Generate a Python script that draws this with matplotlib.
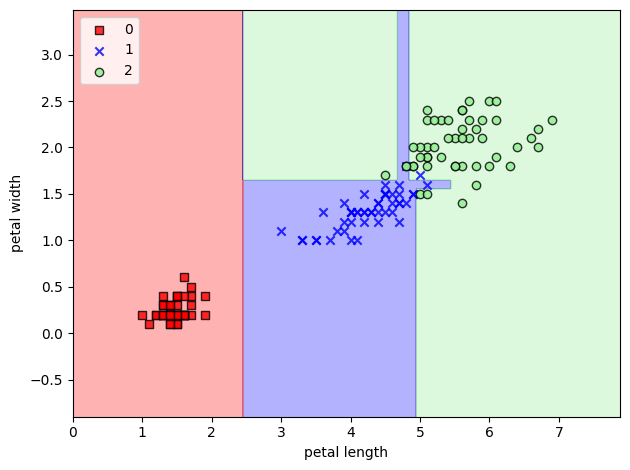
import numpy as np
import matplotlib
matplotlib.use("Agg")
import matplotlib.pyplot as plt
from matplotlib.colors import ListedColormap

# Iris petal length / width
petal_length = [
    1.4, 1.4, 1.3, 1.5, 1.4, 1.7, 1.4, 1.5, 1.4, 1.5, 1.5, 1.6, 1.4, 1.1, 1.2, 1.5, 1.3, 1.4, 1.7, 1.5,
    1.7, 1.5, 1.0, 1.7, 1.9, 1.6, 1.6, 1.5, 1.4, 1.6, 1.6, 1.5, 1.5, 1.4, 1.5, 1.2, 1.3, 1.4, 1.3, 1.5,
    1.3, 1.3, 1.3, 1.6, 1.9, 1.4, 1.6, 1.4, 1.5, 1.4,
    4.7, 4.5, 4.9, 4.0, 4.6, 4.5, 4.7, 3.3, 4.6, 3.9, 3.5, 4.2, 4.0, 4.7, 3.6, 4.4, 4.5, 4.1, 4.5, 3.9,
    4.8, 4.0, 4.9, 4.7, 4.3, 4.4, 4.8, 5.0, 4.5, 3.5, 3.8, 3.7, 3.9, 5.1, 4.5, 4.5, 4.7, 4.4, 4.1, 4.0,
    4.4, 4.6, 4.0, 3.3, 4.2, 4.2, 4.2, 4.3, 3.0, 4.1,
    6.0, 5.1, 5.9, 5.6, 5.8, 6.6, 4.5, 6.3, 5.8, 6.1, 5.1, 5.3, 5.5, 5.0, 5.1, 5.3, 5.5, 6.7, 6.9, 5.0,
    5.7, 4.9, 6.7, 4.9, 5.7, 6.0, 4.8, 4.9, 5.6, 5.8, 6.1, 6.4, 5.6, 5.1, 5.6, 6.1, 5.6, 5.5, 4.8, 5.4,
    5.6, 5.1, 5.1, 5.9, 5.7, 5.2, 5.0, 5.2, 5.4, 5.1,
]
petal_width = [
    0.2, 0.2, 0.2, 0.2, 0.2, 0.4, 0.3, 0.2, 0.2, 0.1, 0.2, 0.2, 0.1, 0.1, 0.2, 0.4, 0.4, 0.3, 0.3, 0.3,
    0.2, 0.4, 0.2, 0.5, 0.2, 0.2, 0.4, 0.2, 0.2, 0.2, 0.2, 0.4, 0.1, 0.2, 0.2, 0.2, 0.2, 0.1, 0.2, 0.2,
    0.3, 0.3, 0.2, 0.6, 0.4, 0.3, 0.2, 0.2, 0.2, 0.2,
    1.4, 1.5, 1.5, 1.3, 1.5, 1.3, 1.6, 1.0, 1.3, 1.4, 1.0, 1.5, 1.0, 1.4, 1.3, 1.4, 1.5, 1.0, 1.5, 1.1,
    1.8, 1.3, 1.5, 1.2, 1.3, 1.4, 1.4, 1.7, 1.5, 1.0, 1.1, 1.0, 1.2, 1.6, 1.5, 1.6, 1.5, 1.3, 1.3, 1.3,
    1.2, 1.4, 1.2, 1.0, 1.3, 1.2, 1.3, 1.3, 1.1, 1.3,
    2.5, 1.9, 2.1, 1.8, 2.2, 2.1, 1.7, 1.8, 1.8, 2.5, 2.0, 1.9, 2.1, 2.0, 2.4, 2.3, 1.8, 2.2, 2.3, 1.5,
    2.3, 2.0, 2.0, 1.8, 2.1, 1.8, 1.8, 1.8, 2.1, 1.6, 1.9, 2.0, 2.2, 1.5, 1.4, 2.3, 2.4, 1.8, 1.8, 2.1,
    2.4, 2.3, 1.9, 2.3, 2.5, 2.3, 1.9, 2.0, 2.3, 1.8,
]
labels = [0] * 50 + [1] * 50 + [2] * 50

# Decision-tree split thresholds (read from the regions)
split_len_setosa = 2.45
split_wid_main = 1.65
split_len_main = 4.95
bar_len_max = 5.45
bar_wid_min = 1.55
strip_len_min = 4.665
strip_len_max = 4.85


def predict(x, y):
    upper = np.where((x > strip_len_min) & (x <= strip_len_max), 1, 2)
    lower = np.where(x <= split_len_main, 1,
                     np.where((x <= bar_len_max) & (y > bar_wid_min), 1, 2))
    return np.where(x <= split_len_setosa, 0, np.where(y <= split_wid_main, lower, upper))


X = np.column_stack([petal_length, petal_width])
y = np.array(labels)

markers = ('s', 'x', 'o')
colors = ('red', 'blue', 'lightgreen')
cmap = ListedColormap(colors)

fig = plt.figure(figsize=(6.3, 4.7), dpi=100)
resolution = 0.02
x1_min, x1_max = X[:, 0].min() - 1, X[:, 0].max() + 1
x2_min, x2_max = X[:, 1].min() - 1, X[:, 1].max() + 1
xx1, xx2 = np.meshgrid(np.arange(x1_min, x1_max, resolution),
                       np.arange(x2_min, x2_max, resolution))
Z = predict(xx1.ravel(), xx2.ravel()).reshape(xx1.shape)
plt.contourf(xx1, xx2, Z, alpha=0.3, cmap=cmap)
plt.xlim(xx1.min(), xx1.max())
plt.ylim(xx2.min(), xx2.max())

for idx, cl in enumerate(np.unique(y)):
    kw = dict(alpha=0.8, c=colors[idx], marker=markers[idx], label=str(cl))
    if markers[idx] != 'x':
        kw['edgecolor'] = 'black'
    plt.scatter(X[y == cl, 0], X[y == cl, 1], **kw)

plt.xlabel('petal length')
plt.ylabel('petal width')
plt.legend(loc='upper left')
plt.tight_layout(pad=0.72)
plt.savefig('out.png', dpi=100)
